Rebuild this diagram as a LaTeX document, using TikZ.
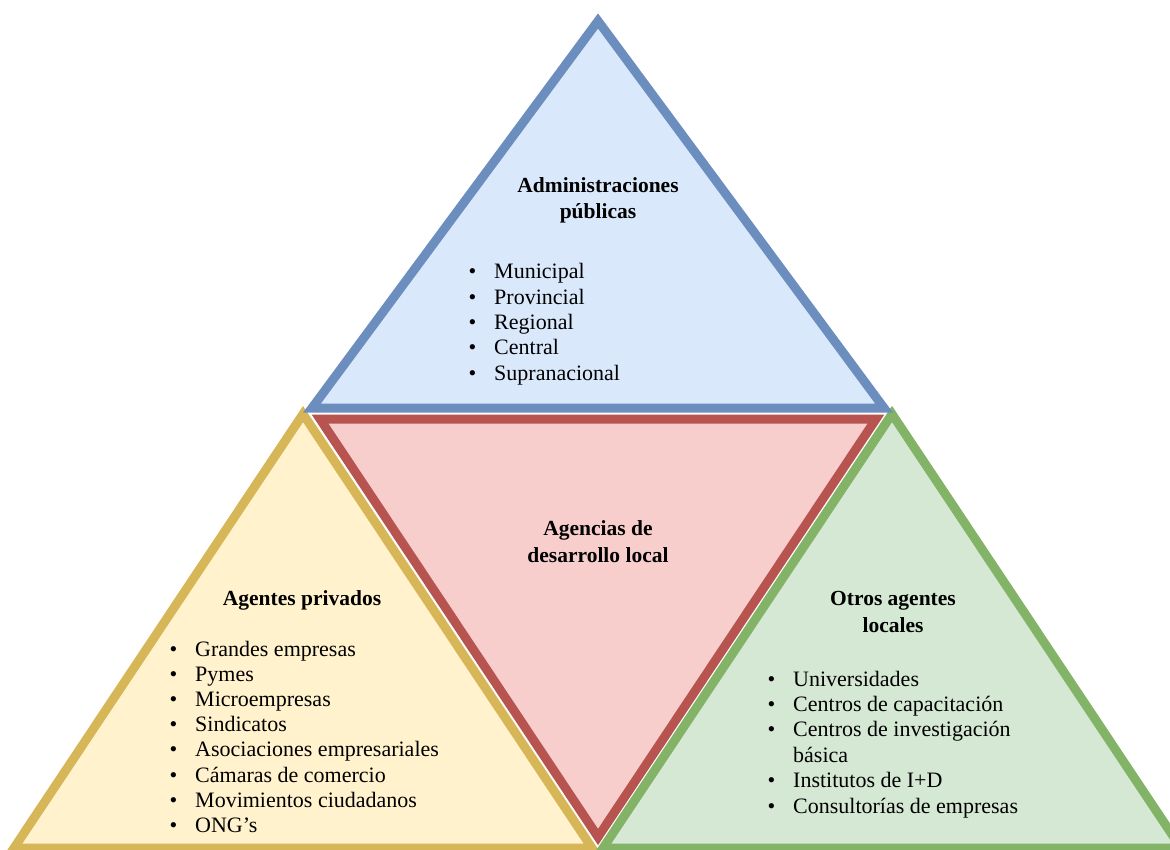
\documentclass[tikz,border=0pt]{standalone}
\usepackage{fontspec}
\setmainfont{Liberation Serif}
\definecolor{admfill}{HTML}{DAE8FC}
\definecolor{admline}{HTML}{6C8EBF}
\definecolor{agefill}{HTML}{F8CECC}
\definecolor{ageline}{HTML}{B85450}
\definecolor{privfill}{HTML}{FFF2CC}
\definecolor{privline}{HTML}{D6B656}
\definecolor{otrfill}{HTML}{D5E8D4}
\definecolor{otrline}{HTML}{82B366}
\newcommand{\bul}{\llap{\textbullet\hspace{18pt}}}
\tikzset{
    side/.style={line width=9pt, line join=miter},
    heading/.style={font=\fontsize{21.5}{26.5}\selectfont\bfseries, align=center, inner sep=0pt, anchor=base},
    item/.style={font=\fontsize{22}{26}\selectfont, inner sep=0pt, anchor=base west},
}

\begin{document}
\begin{tikzpicture}[x=1pt, y=-1pt]
        \clip (0, 0) rectangle (1170, 850);
        % agencias (inverted, in the middle)
        \draw[side, draw=ageline, fill=agefill] (320, 419) -- (876, 419) -- (598, 837) -- cycle;
        % agentes privados
        \draw[side, draw=privline, fill=privfill] (303, 414) -- (592, 848) -- (14, 848) -- cycle;
        % otros agentes
        \draw[side, draw=otrline, fill=otrfill] (892, 414) -- (1181, 848) -- (603, 848) -- cycle;
        % administraciones
        \draw[side, draw=admline, fill=admfill] (598, 21) -- (884, 408) -- (312, 408) -- cycle;

        % base anchor = baseline of the last line
        \node[heading] (adm) at (598, 219) {Administraciones\\públicas};
        \foreach \txt [count=\i] in {Municipal, Provincial, Regional, Central, Supranacional}
            \node[item] (adm-\i) at (494, {279+25.3*(\i-1)}) {\bul\txt};

        \node[heading] (age) at (598, 562) {Agencias de\\desarrollo local};

        \node[heading] (priv) at (302, 605) {Agentes privados};
        \foreach \txt [count=\i] in {Grandes empresas, Pymes, Microempresas, Sindicatos,
                Asociaciones empresariales, Cámaras de comercio, Movimientos ciudadanos, ONG's}
            \node[item] (priv-\i) at (195, {656+25.2*(\i-1)}) {\bul\txt};

        \node[heading] (otr) at (893, 632) {Otros agentes\\locales};
        \node[item] (otr-1) at (793, 686) {\bul Universidades};
        \node[item] (otr-2) at (793, 711.4) {\bul Centros de capacitación};
        \node[item] (otr-3) at (793, 736.8) {\bul Centros de investigación};
        \node[item] (otr-4) at (793, 762.2) {básica};
        \node[item] (otr-5) at (793, 787.6) {\bul Institutos de I+D};
        \node[item] (otr-6) at (793, 813) {\bul Consultorías de empresas};
    \end{tikzpicture}
\end{document}
